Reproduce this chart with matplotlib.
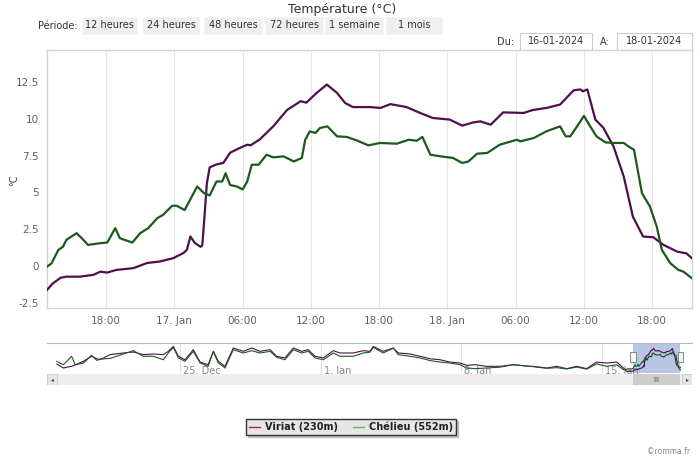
import numpy as np
import matplotlib
matplotlib.use('Agg')
from matplotlib import pyplot as plt
from matplotlib.patches import Rectangle
from matplotlib.lines import Line2D

# main window: hours since 16 Jan 2024 00:00
viriat_t = [12.8, 13.3, 14.0, 14.5, 15.7, 16.9, 17.5, 18.1, 18.9, 20.4, 21.6, 22.7, 23.9,
            24.8, 25.1, 25.4, 25.8, 26.3, 26.45, 26.6, 26.85, 27.1, 27.7, 28.3, 28.9, 29.8,
            30.4, 30.7, 31.5, 32.7, 33.9, 35.1, 35.6, 36.5, 37.4, 38.3, 39.0, 39.7, 41.2,
            42.1, 43.0, 44.4, 45.6, 46.7, 48.2, 49.3, 50.3, 50.9, 51.8, 52.9, 54.7, 55.5,
            56.7, 57.9, 59.1, 59.7, 59.9, 60.3, 61.0, 61.7, 62.6, 63.5, 64.3, 65.2, 66.1,
            67.0, 68.2, 69.0, 69.5]
viriat_v = [-1.63, -1.2, -0.8, -0.73, -0.73, -0.6, -0.39, -0.45, -0.27, -0.15, 0.2, 0.3, 0.53,
            0.88, 1.1, 2.0, 1.56, 1.3, 1.4, 2.9, 5.6, 6.7, 6.9, 7.0, 7.7, 8.04,
            8.24, 8.2, 8.6, 9.5, 10.6, 11.2, 11.1, 11.76, 12.33, 11.76, 11.08, 10.8, 10.8,
            10.74, 11.0, 10.8, 10.4, 10.06, 9.95, 9.54, 9.76, 9.83, 9.6, 10.44, 10.4, 10.6,
            10.74, 10.97, 11.94, 12.0, 11.87, 12.0, 9.95, 9.4, 8.13, 6.08, 3.36, 2.0, 1.95,
            1.43, 0.97, 0.86, 0.52]

chelieu_t = [12.8, 13.2, 13.8, 14.2, 14.5, 15.4, 16.0, 16.4, 17.5, 18.1, 18.8, 19.2, 20.3,
             21.0, 21.7, 22.5, 23.0, 23.8, 24.2, 24.9, 26.0, 26.6, 27.1, 27.7, 28.2, 28.5,
             28.9, 29.5, 30.0, 30.4, 30.8, 31.4, 32.1, 32.7, 33.6, 34.5, 35.2, 35.5, 35.9,
             36.4, 36.8, 37.45, 38.3, 39.15, 40.0, 41.05, 42.1, 43.55, 44.6, 45.3, 45.8,
             46.5, 47.4, 48.5, 49.3, 49.85, 50.6, 51.5, 52.6, 54.1, 54.4, 55.6, 56.7, 57.9,
             58.4, 58.8, 59.4, 60.0, 60.55, 61.1, 61.9, 62.6, 63.5, 63.9, 64.4, 65.1, 65.8,
             66.4, 66.85, 67.6, 68.3, 68.75, 69.5]
chelieu_v = [-0.05, 0.18, 1.09, 1.3, 1.77, 2.23, 1.77, 1.43, 1.55, 1.59, 2.57, 1.89, 1.59,
             2.23, 2.57, 3.25, 3.47, 4.09, 4.09, 3.8, 5.4, 4.95, 4.79, 5.74, 5.74, 6.3,
             5.5, 5.4, 5.2, 5.74, 6.88, 6.88, 7.56, 7.38, 7.45, 7.1, 7.34, 8.58, 9.15,
             9.04, 9.38, 9.49, 8.81, 8.77, 8.54, 8.2, 8.36, 8.31, 8.58, 8.51, 8.77,
             7.56, 7.45, 7.34, 7.0, 7.1, 7.63, 7.68, 8.24, 8.58, 8.47, 8.7, 9.15, 9.49,
             8.81, 8.81, 9.49, 10.2, 9.49, 8.81, 8.4, 8.36, 8.36, 8.13, 7.9, 4.95, 4.04,
             2.68, 1.09, 0.18, -0.27, -0.39, -0.84]

# navigator history: days since 25 Dec 2023 00:00
nav_d = [-6.13, -5.8, -5.39, -5.22, -4.8, -4.4, -4.14, -3.98, -3.48, -2.82, -2.32, -1.83,
         -1.33, -0.83, -0.58, -0.33, -0.08, 0.25, 0.66, 1.0, 1.4, 1.66, 1.9, 2.24, 2.65,
         3.15, 3.57, 3.98, 4.48, 4.81, 5.22, 5.64, 6.05, 6.38, 6.72, 7.13, 7.63, 7.96,
         8.62, 9.12, 9.45, 9.62, 10.11, 10.61, 10.86, 11.44, 11.94, 12.44, 12.94, 13.43,
         13.93, 14.26, 14.68, 15.26, 15.92, 16.58, 17.41, 17.58, 18.24, 18.74, 19.24,
         19.74, 20.23, 20.73, 21.23, 21.73, 22.06, 22.22]
nav_viriat = [2.8, 0.4, 1.5, 2.2, 4.5, 7.5, 6.0, 5.4, 8.5, 9.5, 10.1, 8.5,
              8.9, 8.5, 10.5, 13.5, 7.5, 5.4, 11.5, 4.0, 2.4, 10.5, 4.5, 1.4, 12.5,
              10.5, 12.5, 10.5, 11.5, 7.5, 6.5, 12.5, 10.5, 11.5, 7.5, 6.5, 10.9, 9.5,
              9.5, 10.9, 10.5, 13.5, 10.5, 12.5, 9.5, 8.9, 7.5, 6.0, 5.4, 4.0,
              3.4, 2.0, 2.4, 1.4, 1.4, 2.4, 1.4, 1.4, 0.4, 1.4, 0.0,
              1.4, 0.0, 4.0, 3.4, 4.0, 0.4, -1.6]
nav_chelieu = [4.4, 2.4, 7.5, 2.4, 3.4, 8.1, 5.0, 5.8, 6.2, 8.9, 10.9, 7.5,
               7.5, 5.4, 9.5, 12.9, 6.5, 4.5, 10.5, 3.5, 1.4, 10.5, 3.5, 0.4, 11.5,
               9.5, 10.9, 9.5, 10.5, 6.9, 5.4, 11.5, 9.5, 10.5, 6.5, 5.4, 9.5, 7.5,
               7.5, 9.5, 10.0, 12.9, 9.5, 12.5, 8.5, 7.5, 6.5, 4.9, 4.0, 3.4,
               2.4, 0.4, 0.0, 0.4, 0.9, 2.4, 1.4, 1.2, 0.2, 0.6, -0.2,
               1.0, -0.3, 2.9, 1.4, 2.4, -0.6, -0.3]
nav_ticks = [0, 7, 14, 21]
nav_tick_labels = ['25. Dec', '1. Jan', '8. Jan', '15. Jan']

series_names = ['Viriat (230m)', 'Chélieu (552m)']
line_colors = ['#4f0f4f', '#1c5a1c']
legend_colors = ['#9a2a6a', '#6ab46a']

x_ticks = [18, 24, 30, 36, 42, 48, 54, 60, 66]
x_tick_labels = ['18:00', '17. Jan', '06:00', '12:00', '18:00', '18. Jan', '06:00', '12:00', '18:00']
y_ticks = [-2.5, 0, 2.5, 5, 7.5, 10, 12.5]
y_tick_labels = ['-2.5', '0', '2.5', '5', '7.5', '10', '12.5']

period_labels = ['12 heures', '24 heures', '48 heures', '72 heures', '1 semaine', '1 mois']
date_from = '16-01-2024'
date_to = '18-01-2024'

W, H = 700, 462
fig = plt.figure(figsize=(7, 4.62), dpi=100)


def box(x0, y0, x1, y1):
    # pixel box (top-left origin) -> figure fraction rect
    return [x0 / W, 1 - y1 / H, (x1 - x0) / W, (y1 - y0) / H]


# ---- main chart
ax = fig.add_axes(box(47, 50, 692, 308))
ax.plot(viriat_t, viriat_v, color=line_colors[0], lw=1.6, solid_joinstyle='round', zorder=3)
ax.plot(chelieu_t, chelieu_v, color=line_colors[1], lw=1.6, solid_joinstyle='round', zorder=3)
ax.set_xlim(12.8, 69.5)
ax.set_ylim(-2.86, 14.68)
ax.set_xticks(x_ticks)
ax.set_xticklabels(x_tick_labels)
ax.set_yticks(y_ticks)
ax.set_yticklabels(y_tick_labels)
ax.tick_params(length=0, labelsize=7.5, labelcolor='#606060', pad=6)
ax.grid(axis='x', color='#e6e6e6', lw=0.8)
for s in ax.spines.values():
    s.set_color('#c8d6e2')
    s.set_linewidth(1)
fig.text(14 / W, 1 - 180 / H, '°C', rotation=90, ha='center', va='center',
         fontsize=7, color='#444444')

# ---- navigator
nav = fig.add_axes(box(47, 343, 692, 373))
start_d = 22 + viriat_t[0] / 24
end_d = 22 + viriat_t[-1] / 24
nav.plot(nav_d + [22 + t / 24 for t in viriat_t], nav_viriat + viriat_v,
         color=line_colors[0], lw=0.8, zorder=3)
nav.plot(nav_d + [22 + t / 24 for t in chelieu_t], nav_chelieu + chelieu_v,
         color=line_colors[1], lw=0.8, zorder=3)
nav.set_xlim((47 - 180) / 20.1, (692 - 180) / 20.1)
nav.set_ylim(-2.63, 15.55)
nav.axvspan(start_d, end_d, color='#b9c6e3', zorder=1, lw=0)
nav.set_xticks(nav_ticks)
nav.set_xticklabels([])
nav.set_yticks([])
nav.tick_params(length=0)
nav.grid(axis='x', color='#e0e0e0', lw=0.8)
for d, lab in zip(nav_ticks, nav_tick_labels):
    nav.text(d + 0.15, -1.6, lab, fontsize=7, color='#888888', va='center', ha='left', zorder=2)
for s in ['left', 'right', 'bottom']:
    nav.spines[s].set_visible(False)
nav.spines['top'].set_color('#b8b8bc')
for d in [start_d, end_d]:
    nav.add_patch(Rectangle((d - 0.13, 4.0), 0.26, 5.8, facecolor='#f4f4f4',
                            edgecolor='#777777', lw=0.6, zorder=4))

# ---- scrollbar
sb = fig.add_axes(box(47, 374, 692, 385))
sb.set_xlim(nav.get_xlim())
sb.set_ylim(0, 1)
sb.axis('off')
sb.add_patch(Rectangle((0, 0), 1, 1, transform=sb.transAxes, facecolor='#eeeeee', lw=0))
sb.add_patch(Rectangle((start_d, 0), end_d - start_d, 1, facecolor='#cdcdcd', lw=0))
sb.text((start_d + end_d) / 2, 0.5, 'III', ha='center', va='center', fontsize=5, color='#555555')
for x0 in [0, 1 - 10 / 645]:
    sb.add_patch(Rectangle((x0, 0), 10 / 645, 1, transform=sb.transAxes,
                           facecolor='#e4e4e4', edgecolor='#cccccc', lw=0.6))
sb.text(5 / 645, 0.5, '◂', transform=sb.transAxes, ha='center', va='center', fontsize=4, color='#333333')
sb.text(1 - 5 / 645, 0.5, '▸', transform=sb.transAxes, ha='center', va='center', fontsize=4, color='#333333')

# ---- header controls
ui = fig.add_axes([0, 0, 1, 1], zorder=-1)
ui.set_xlim(0, W)
ui.set_ylim(H, 0)
ui.axis('off')
fig.text(342 / W, 1 - 9 / H, 'Température (°C)', ha='center', va='center', fontsize=9, color='#333333')
fig.text(38 / W, 1 - 26 / H, 'Période:', ha='left', va='center', fontsize=7, color='#333333')
btn_x = [82, 143, 204, 265, 325, 386]
btn_w = [55, 56, 58, 58, 58, 56]
for x0, w, lab in zip(btn_x, btn_w, period_labels):
    ui.add_patch(Rectangle((x0, 17), w, 17, facecolor='#efefef', edgecolor='#f4f4f4', lw=0.5))
    ui.text(x0 + w / 2, 25.5, lab, ha='center', va='center', fontsize=7, color='#333333')
ui.text(497, 42, 'Du:', ha='left', va='center', fontsize=7, color='#333333')
ui.text(600, 42, 'A:', ha='left', va='center', fontsize=7, color='#333333')
for x0, x1, lab in [(520, 592, date_from), (617, 692, date_to)]:
    ui.add_patch(Rectangle((x0, 33), x1 - x0, 17, facecolor='white', edgecolor='#cccccc', lw=0.8))
    ui.text((x0 + x1) / 2, 41.5, lab, ha='center', va='center', fontsize=7, color='#333333')

# ---- legend
handles = [Line2D([], [], color=c, lw=1) for c in legend_colors]
leg = fig.legend(handles, series_names, loc='center', bbox_to_anchor=(351 / W, 1 - 427 / H),
                 ncol=2, frameon=True, fancybox=False,
                 shadow={'color': '#999999', 'ox': 1.5, 'oy': -1.5},
                 handlelength=1.1, handletextpad=0.5, columnspacing=1.6, borderpad=0.3,
                 prop={'weight': 'bold', 'size': 7})
leg.get_frame().set_facecolor('#e6e6e6')
leg.get_frame().set_edgecolor('#333333')
leg.get_frame().set_alpha(1)
for t in leg.get_texts():
    t.set_color('#222222')

fig.text(690 / W, 1 - 452 / H, '©romma.fr', ha='right', va='center', fontsize=5.5, color='#888888')

fig.savefig('out.png', dpi=100)
